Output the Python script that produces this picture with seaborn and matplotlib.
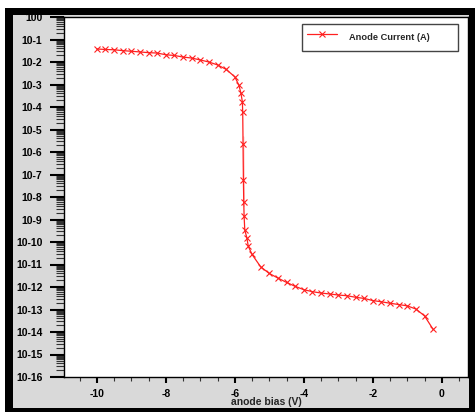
import numpy as np
import pandas as pd
import matplotlib
matplotlib.use("Agg")
import matplotlib.pyplot as plt
from matplotlib.patches import Rectangle
from matplotlib.ticker import FixedLocator, MultipleLocator, NullFormatter
import seaborn as sns

# anode bias sweep (V) and anode current (A)
anode_bias = [
    -10.0, -9.75, -9.5, -9.25, -9.0, -8.75, -8.5, -8.25, -8.0, -7.75,
    -7.5, -7.25, -7.0, -6.75, -6.5, -6.25, -6.0, -5.88, -5.82, -5.78,
    -5.77, -5.76, -5.76, -5.76, -5.76, -5.76, -5.76, -5.76, -5.76, -5.76,
    -5.76, -5.76, -5.75, -5.75, -5.75, -5.74, -5.74, -5.73, -5.71, -5.65,
    -5.61, -5.5, -5.25, -5.0, -4.75, -4.5, -4.25, -4.0, -3.75, -3.5,
    -3.25, -3.0, -2.75, -2.5, -2.25, -2.0, -1.75, -1.5, -1.25, -1.0,
    -0.75, -0.5, -0.25,
]
anode_current = [
    3.8e-2, 3.6e-2, 3.5e-2, 3.2e-2, 3.0e-2, 2.8e-2, 2.6e-2, 2.5e-2, 2.1e-2, 1.95e-2,
    1.66e-2, 1.5e-2, 1.23e-2, 1.0e-2, 7.4e-3, 4.7e-3, 2.2e-3, 9.3e-4, 4.0e-4, 1.7e-4,
    6.0e-5, 1.3e-5, 7.8e-6, 1.0e-6, 7.9e-7, 6.3e-7, 5.0e-7, 4.0e-7, 3.2e-7, 2.5e-7,
    2.0e-7, 1.45e-7, 8.9e-8, 5.2e-8, 2.8e-8, 8.1e-9, 4.1e-9, 1.45e-9, 3.4e-10, 1.55e-10,
    6.6e-11, 2.8e-11, 7.9e-12, 4.0e-12, 2.5e-12, 1.6e-12, 1.07e-12, 7.6e-13, 6.2e-13, 5.4e-13,
    4.9e-13, 4.4e-13, 4.1e-13, 3.5e-13, 3.1e-13, 2.5e-13, 2.2e-13, 1.9e-13, 1.66e-13, 1.45e-13,
    1.05e-13, 5.2e-14, 1.3e-14,
]

y_exponents = list(range(0, -17, -1))
y_ticklabels = ["100"] + [f"10-{k}" for k in range(1, 17)]
x_ticks = [-10, -8, -6, -4, -2, 0]
x_ticklabels = ["-10", "-8", "-6", "-4", "-2", "0"]

df = pd.DataFrame({"bias": anode_bias, "current": anode_current})

sns.set_style("white")
plt.rcParams["font.family"] = ["Liberation Sans", "DejaVu Sans"]
plt.rcParams["font.weight"] = "bold"
plt.rcParams["ytick.left"] = True
plt.rcParams["xtick.bottom"] = True

fig = plt.figure(figsize=(4.75, 4.12), dpi=100)
fig.patch.set_facecolor("white")
# black outer frame and grey panel
fig.patches.append(Rectangle((5 / 475, 0), 470 / 475, 404 / 412, transform=fig.transFigure,
                             facecolor="black", edgecolor="none", zorder=-2))
fig.patches.append(Rectangle((13 / 475, 4 / 412), 456 / 475, 393 / 412, transform=fig.transFigure,
                             facecolor="#d9d9d9", edgecolor="none", zorder=-1))

ax = fig.add_axes([64 / 475, 35 / 412, 404 / 475, 360 / 412])
ax.set_facecolor("white")

sns.lineplot(data=df, x="bias", y="current", sort=False, ax=ax, color="#ff2020",
             lw=0.9, marker="x", markersize=4, markeredgewidth=0.8,
             markeredgecolor="#ff2020", label="Anode Current (A)         ")

ax.set_yscale("log")
ax.set_ylim(1e-16, 1e0)
ax.set_xlim(-10.95, 0.76)

ax.yaxis.set_major_locator(FixedLocator([10.0 ** e for e in y_exponents]))
ax.set_yticklabels(y_ticklabels)
ax.yaxis.set_minor_locator(FixedLocator([m * 10.0 ** e for e in y_exponents[1:] for m in range(2, 10)]))
ax.yaxis.set_minor_formatter(NullFormatter())

ax.set_xticks(x_ticks)
ax.set_xticklabels(x_ticklabels)
ax.xaxis.set_minor_locator(MultipleLocator(0.5))

ax.tick_params(axis="y", which="major", direction="out", length=10, width=1.5,
               pad=5.5, labelsize=7.5, colors="black", left=True)
ax.tick_params(axis="y", which="minor", direction="out", length=5.5, width=0.8,
               color="#333333", left=True)
ax.tick_params(axis="x", which="major", direction="out", length=4.5, width=1.5,
               pad=4, labelsize=7.5, colors="black", bottom=True)
ax.tick_params(axis="x", which="minor", direction="out", length=3, width=0.8,
               color="#333333", bottom=True)

for lab in ax.get_xticklabels() + ax.get_yticklabels():
    lab.set_fontweight("bold")

ax.set_xlabel("anode bias (V)", fontsize=7.5, fontweight="bold", labelpad=-1)
ax.set_ylabel("")

for side in ["left", "bottom", "top", "right"]:
    ax.spines[side].set_color("black")
    ax.spines[side].set_linewidth(1.0)

leg = ax.legend(loc="upper left", bbox_to_anchor=(238 / 404, 353 / 360), borderaxespad=0,
                frameon=True, fancybox=False, framealpha=1, edgecolor="#444444",
                handlelength=3.3, handletextpad=1.2, borderpad=0.5, handleheight=2.5,
                prop={"size": 6.7, "weight": "bold"})
leg.get_frame().set_linewidth(1.0)

fig.savefig("out.png", dpi=100)
